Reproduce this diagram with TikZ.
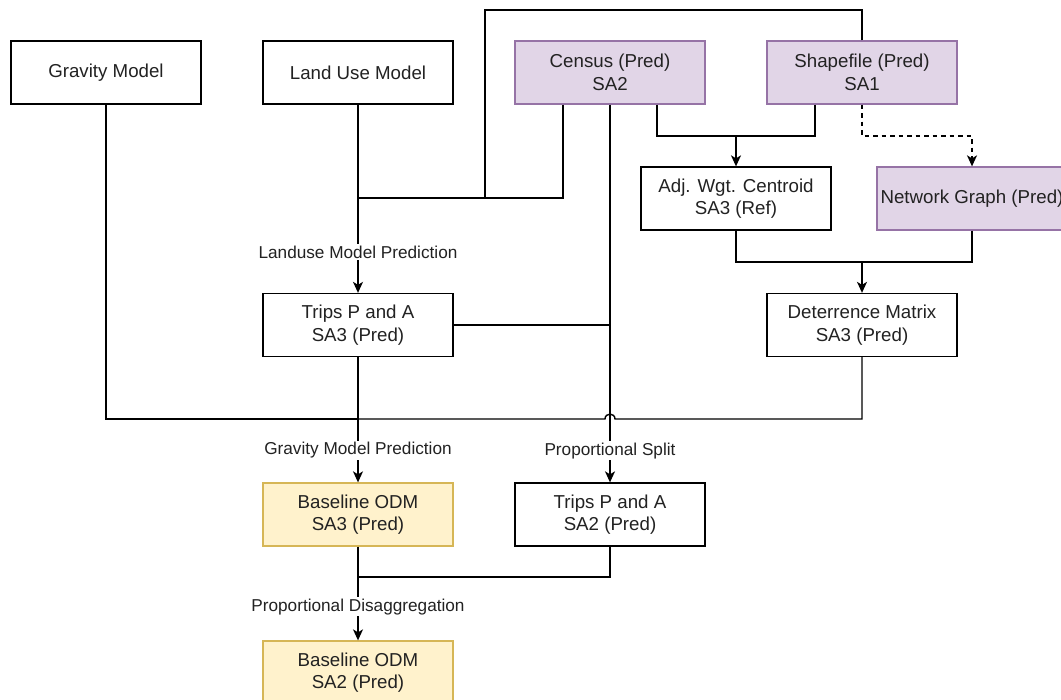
\documentclass[tikz,border=0pt]{standalone}
\usepackage{fontspec}
\setmainfont{Liberation Sans}
\usetikzlibrary{arrows.meta}
\definecolor{purfill}{HTML}{E1D5E7}
\definecolor{purline}{HTML}{9673A6}
\definecolor{yelfill}{HTML}{FFF2CC}
\definecolor{yelline}{HTML}{D6B656}
\definecolor{txt}{HTML}{222222}
\tikzset{
  box/.style={draw=black, fill=white, line width=1.3pt, minimum width=190pt, minimum height=63pt,
    inner sep=0pt, align=center, text=txt, font=\fontsize{18.7}{22.5}\selectfont},
  purple box/.style={box, draw=purline, fill=purfill},
  yellow box/.style={box, draw=yelline, fill=yelfill},
  conn/.style={line width=1.4pt, draw=black},
  arr/.style={conn, -{Stealth[length=11pt, width=10pt, inset=3pt]}},
  lbl/.style={fill=white, inner sep=1.5pt, text=txt, font=\fontsize{17.2}{20}\selectfont},
}
\begin{document}
\begin{tikzpicture}[x=1pt, y=-1pt]
\useasboundingbox (0,0) rectangle (1061,700);
\clip (0,0) rectangle (1061,700);
\fill[white] (0,0) rectangle (1061,700);
% nodes
\node[box] (grav) at (106,72.5) {Gravity Model};
\node[box] (lu) at (358,72.5) {Land Use Model};
\node[purple box] (census) at (610,72.5) {Census (Pred)\\SA2};
\node[purple box] (sf) at (862,72.5) {Shapefile (Pred)\\SA1};
\node[box] (adj) at (736,198.5) {Adj. Wgt. Centroid\\SA3 (Ref)};
\node[purple box] (ng) at (972,198.5) {Network Graph (Pred)};
\node[box] (t3) at (358,325) {Trips P and A\\SA3 (Pred)};
\node[box] (dm) at (862,325) {Deterrence Matrix\\SA3 (Pred)};
\node[yellow box] (b3) at (358,514.5) {Baseline ODM\\SA3 (Pred)};
\node[box] (t2) at (610,514.5) {Trips P and A\\SA2 (Pred)};
\node[yellow box] (b2) at (358,672.5) {Baseline ODM\\SA2 (Pred)};
% junctions
\coordinate (j2) at (358,198);
\coordinate (jtop) at (485,10);
\coordinate (j3) at (610,325);
\coordinate (j4) at (736,136);
\coordinate (j5) at (862,262);
\coordinate (jg) at (358,419);
\coordinate (hopR) at (615,419);
\coordinate (hopL) at (605,419);
\coordinate (j6) at (358,577);
% connectors
\draw[arr] (lu.south) -- (t3.north) node[lbl, pos=0.783] {Landuse Model Prediction};
\draw[conn] ([xshift=-47pt]census.south) |- (j2);
\draw[conn] (sf.north) |- (jtop) -- (485,198) -- (j2);
\draw[arr] (census.south) -- (t2.north) node[lbl, pos=0.916] {Proportional Split};
\draw[conn] (t3.east) -- (j3);
\draw[arr] ([xshift=47pt]census.south) |- (j4) -- (adj.north);
\draw[conn] ([xshift=-47pt]sf.south) |- (j4);
\draw[arr, dash pattern=on 4.5pt off 4pt] (sf.south) -- ++(0,31.5) -| (ng.north);
\draw[arr] (adj.south) |- (j5) -- (dm.north);
\draw[conn] (ng.south) |- (j5);
\draw[conn] (grav.south) |- (jg);
\draw[conn] (dm.south) |- (hopR) .. controls (615,412.5) and (605,412.5) .. (hopL) -- (jg);
\draw[arr] (t3.south) -- (b3.north) node[lbl, pos=0.744] {Gravity Model Prediction};
\draw[conn] (t2.south) |- (j6);
\draw[arr] (b3.south) -- (b2.north) node[lbl, pos=0.64] {Proportional Disaggregation};
\end{tikzpicture}
\end{document}
